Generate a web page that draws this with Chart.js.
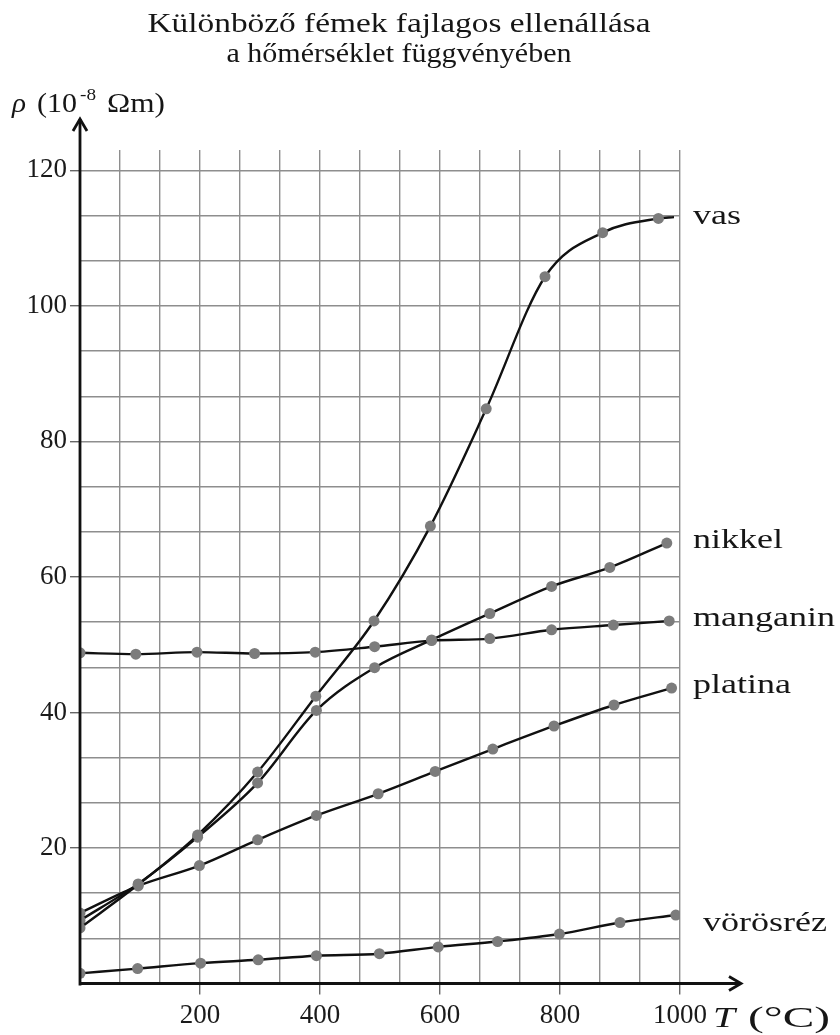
<!DOCTYPE html>
<html><head><meta charset="utf-8">
<script src="https://cdn.jsdelivr.net/npm/chart.js@4/dist/chart.umd.min.js"></script>
<style>html,body{margin:0;padding:0;background:#fff}#wrap{width:840px;height:1035px;position:relative}</style>
</head><body><div id="wrap"><canvas id="c"></canvas></div>
<script>
// ---- data ----
const vasT = [0, 97, 196, 296, 393, 490, 584, 677, 775, 871, 964, 990];
const vasRho = [8.2, 14.6, 21.9, 31.2, 42.4, 53.5, 67.5, 84.8, 104.3, 110.8, 112.9, 113.1];
const nikkelT = [0, 97, 196, 296, 394, 491, 586, 683, 786, 883, 978];
const nikkelRho = [9.3, 14.7, 21.6, 29.6, 40.3, 46.6, 50.7, 54.6, 58.6, 61.4, 65.0];
const manganinT = [0, 93, 195, 291, 392, 491, 586, 683, 786, 889, 982];
const manganinRho = [48.8, 48.6, 48.9, 48.7, 48.9, 49.7, 50.6, 50.9, 52.2, 52.9, 53.5];
const platinaT = [0, 97, 199, 296, 394, 497, 592, 688, 790, 890, 986];
const platinaRho = [10.4, 14.4, 17.4, 21.2, 24.8, 28.0, 31.3, 34.6, 38.0, 41.1, 43.6];
const vorosrezT = [0, 96, 201, 297, 394, 499, 597, 696, 799, 900, 993];
const vorosrezRho = [1.5, 2.2, 3.0, 3.5, 4.1, 4.4, 5.4, 6.2, 7.3, 9.0, 10.1];
const seriesNames = ['vas', 'nikkel', 'manganin', 'platina', 'vörösréz'];
const xTickLabels = [200, 400, 600, 800, 1000];
const yTickLabels = [20, 40, 60, 80, 100, 120];
const titleLines = ['Különböző fémek fajlagos ellenállása', 'a hőmérséklet függvényében'];

// pick the first installed serif family
const probe = document.createElement('canvas').getContext('2d');
function hasFont(f) {
  const s = 'mmmWWWiiilll1234567890ÖőŐ';
  for (const base of ['monospace', 'sans-serif']) {
    probe.font = '40px ' + base; const w0 = probe.measureText(s).width;
    probe.font = '40px "' + f + '", ' + base; const w1 = probe.measureText(s).width;
    if (Math.abs(w0 - w1) > 0.5) return true;
  }
  return false;
}
const cands = ['Liberation Serif', 'Tinos', 'Times New Roman', 'Nimbus Roman', 'FreeSerif', 'Noto Serif', 'DejaVu Serif Condensed', 'DejaVu Serif'];
let FAM = 'DejaVu Serif';
for (const c of cands) { if (hasFont(c)) { FAM = c; break; } }
const SERIF = '"' + FAM + '", serif';
const timesLike = ['Liberation Serif', 'Tinos', 'Times New Roman', 'Nimbus Roman', 'FreeSerif'].includes(FAM);
const tickSize = timesLike ? 27 : (FAM === 'DejaVu Serif Condensed' ? 25 : 23);

const isLab = (v, arr) => arr.some(a => Math.abs(a - v) < 1e-6);
function mk(T, R) { return T.map((t, i) => ({ x: t, y: R[i] })); }
function ds(label, T, R, hideLast) {
  return {
    label, data: mk(T, R),
    borderColor: '#111', borderWidth: 2.4,
    pointBackgroundColor: '#7c7c7c', pointBorderWidth: 0,
    pointRadius: c => (hideLast && c.dataIndex === T.length - 1) ? 0 : 5.5,
    cubicInterpolationMode: 'monotone', fill: false
  };
}

// draw text squeezed/stretched horizontally to a target width
function fitText(ctx, txt, x, y, targetW, align) {
  const w = ctx.measureText(txt).width;
  ctx.save();
  ctx.translate(x, y);
  ctx.scale(targetW / w, 1);
  ctx.textAlign = align || 'left';
  ctx.fillText(txt, 0, 0);
  ctx.restore();
}

const decor = {
  id: 'decor',
  afterDraw(chart) {
    const ctx = chart.ctx, xs = chart.scales.x, ys = chart.scales.y, ca = chart.chartArea;
    const x0 = xs.getPixelForValue(0), y0 = ys.getPixelForValue(0);
    ctx.save();
    // axes with arrows
    ctx.strokeStyle = '#111'; ctx.lineWidth = 2.8; ctx.lineCap = 'butt';
    ctx.beginPath(); ctx.moveTo(x0, y0 + 2); ctx.lineTo(x0, 119); ctx.stroke();
    ctx.beginPath(); ctx.moveTo(x0 - 7, 131); ctx.lineTo(x0, 119); ctx.lineTo(x0 + 7, 131); ctx.stroke();
    ctx.beginPath(); ctx.moveTo(x0 - 1, y0); ctx.lineTo(741, y0); ctx.stroke();
    ctx.beginPath(); ctx.moveTo(729, y0 - 7); ctx.lineTo(741, y0); ctx.lineTo(729, y0 + 7); ctx.stroke();

    ctx.fillStyle = '#161616';
    ctx.textBaseline = 'alphabetic';
    // title
    ctx.font = (timesLike ? 28 : 25) + 'px ' + SERIF;
    fitText(ctx, titleLines[0], 399, 32, 503, 'center');
    fitText(ctx, titleLines[1], 399, 62, 345, 'center');

    // y axis title
    const ys1 = timesLike ? 27 : 24;
    ctx.font = 'italic ' + ys1 + 'px ' + SERIF;
    fitText(ctx, 'ρ', 12, 112, 14);
    ctx.font = ys1 + 'px ' + SERIF;
    fitText(ctx, '(10', 37, 112, 40);
    ctx.font = (timesLike ? 16 : 14) + 'px ' + SERIF;
    fitText(ctx, '-8', 80, 100, 16);
    ctx.font = ys1 + 'px ' + SERIF;
    fitText(ctx, 'Ωm)', 107, 112, 58);

    // x axis title
    ctx.font = 'italic ' + (timesLike ? 30 : 27) + 'px ' + SERIF;
    fitText(ctx, 'T', 713, 1027, 22);
    ctx.font = (timesLike ? 30 : 27) + 'px ' + SERIF;
    fitText(ctx, '(°C)', 748, 1027, 82);

    // series labels at the end of each curve
    ctx.font = (timesLike ? 28 : 26) + 'px ' + SERIF;
    ctx.textBaseline = 'middle';
    const sx = 142 / ctx.measureText('manganin').width;
    chart.data.datasets.forEach((d, i) => {
      const pts = d.data;
      const last = (i === 0) ? pts[pts.length - 2] : pts[pts.length - 1];
      const yy = ys.getPixelForValue(last.y);
      const dx = (i === 4) ? 10 : 0, dy = (i === 4) ? 9 : -2;
      const w = ctx.measureText(seriesNames[i]).width * sx;
      fitText(ctx, seriesNames[i], ca.right + 13 + dx, yy + dy, w);
    });
    ctx.restore();
  }
};

const tickFont = { family: SERIF, size: tickSize };

new Chart(document.getElementById('c'), {
  type: 'line',
  data: {
    datasets: [
      ds(seriesNames[0], vasT, vasRho, true),
      ds(seriesNames[1], nikkelT, nikkelRho),
      ds(seriesNames[2], manganinT, manganinRho),
      ds(seriesNames[3], platinaT, platinaRho),
      ds(seriesNames[4], vorosrezT, vorosrezRho)
    ]
  },
  options: {
    responsive: true, maintainAspectRatio: false, animation: false,
    layout: { padding: { top: 150, right: 160, left: 0, bottom: 0 } },
    plugins: { legend: { display: false }, tooltip: { enabled: false }, title: { display: false } },
    scales: {
      x: {
        type: 'linear', min: 0, max: 1000,
        afterBuildTicks: s => { s.ticks = []; for (let k = 0; k <= 15; k++) s.ticks.push({ value: k * 200 / 3 }); },
        afterFit: s => { s.height = 51.5; },
        ticks: {
          autoSkip: false, maxRotation: 0, padding: 5, color: '#1a1a1a', font: tickFont,
          callback: v => isLab(v, xTickLabels) ? String(Math.round(v)) : ''
        },
        grid: {
          color: '#8e8e8e', lineWidth: 1.4, tickLength: 11,
          tickColor: c => (c.tick && isLab(c.tick.value, xTickLabels)) ? '#666' : 'rgba(0,0,0,0)',
          tickWidth: 1.4
        },
        border: { display: false }
      },
      y: {
        type: 'linear', min: 0, max: 123,
        afterBuildTicks: s => { s.ticks = []; for (let k = 0; k <= 18; k++) s.ticks.push({ value: k * 20 / 3 }); },
        afterFit: s => { s.width = 80; },
        ticks: {
          autoSkip: false, padding: 3, color: '#1a1a1a', font: tickFont,
          callback: v => isLab(v, yTickLabels) ? String(Math.round(v)) : ''
        },
        grid: {
          color: '#8e8e8e', lineWidth: 1.4, tickLength: 10,
          tickColor: c => (c.tick && isLab(c.tick.value, yTickLabels)) ? '#666' : 'rgba(0,0,0,0)',
          tickWidth: 1.4
        },
        border: { display: false }
      }
    }
  },
  plugins: [decor]
});
</script>
</body></html>
